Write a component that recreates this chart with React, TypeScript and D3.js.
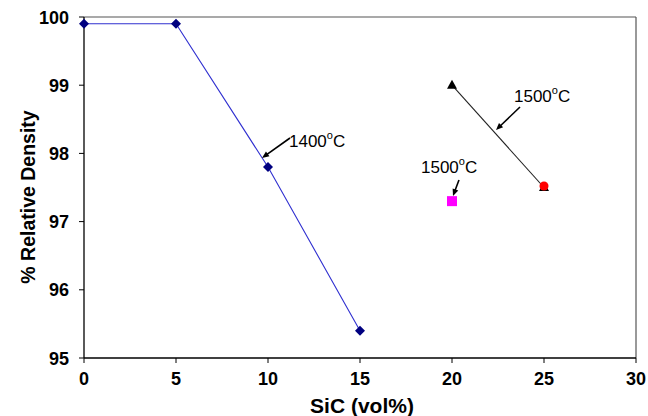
import React from "react";
import * as d3 from "d3";

const blueX = [0, 5, 10, 15];
const blueY = [99.9, 99.9, 97.8, 95.4];
const blackX = [20, 25];
const blackY = [99.0, 97.5];
const redPoint = [25, 97.5];
const magentaPoint = [20, 97.3];
const xTicks = [0, 5, 10, 15, 20, 25, 30];
const yTicks = [95, 96, 97, 98, 99, 100];

const W = 648, H = 416;
const L = 84, R = 636, T = 17, B = 358;

export default function App() {
  const x = d3.scaleLinear().domain([0, 30]).range([L, R]);
  const y = d3.scaleLinear().domain([95, 100]).range([B, T]);
  const line = d3.line<[number, number]>().x(d => x(d[0])).y(d => y(d[1]));
  const blue = blueX.map((v, i) => [v, blueY[i]] as [number, number]);
  const black = blackX.map((v, i) => [v, blackY[i]] as [number, number]);
  const tri = "M0,-5.5L5,3.5L-5,3.5Z";
  const dia = "M0,-5L5,0L0,5L-5,0Z";
  const font = "Liberation Sans, Arial, sans-serif";

  const Arrow = ({ x1, y1, x2, y2 }: any) => {
    const a = Math.atan2(y2 - y1, x2 - x1);
    const hl = 7, hw = 3;
    const p1 = [x2 - hl * Math.cos(a) + hw * Math.sin(a), y2 - hl * Math.sin(a) - hw * Math.cos(a)];
    const p2 = [x2 - hl * Math.cos(a) - hw * Math.sin(a), y2 - hl * Math.sin(a) + hw * Math.cos(a)];
    return (
      <g>
        <line x1={x1} y1={y1} x2={x2 - 4 * Math.cos(a)} y2={y2 - 4 * Math.sin(a)} stroke="#000" strokeWidth={1.6} />
        <polygon points={`${x2},${y2} ${p1[0]},${p1[1]} ${p2[0]},${p2[1]}`} fill="#000" />
      </g>
    );
  };

  const Temp = ({ lx, ly, t }: any) => (
    <text x={lx} y={ly} fontFamily={font} fontSize={17} fill="#000">
      {t}<tspan dy={-8} fontSize={11}>o</tspan><tspan dy={8}>C</tspan>
    </text>
  );

  return (
    <svg width={W} height={H} style={{ position: "absolute", left: 0, top: 0, background: "#fff" }}>
      <rect x={0} y={0} width={W} height={H} fill="#fff" />
      <line x1={L} y1={T} x2={R} y2={T} stroke="#555" strokeWidth={1.2} />
      <line x1={R} y1={T} x2={R} y2={B} stroke="#555" strokeWidth={1.2} />
      <line x1={L} y1={T} x2={L} y2={B} stroke="#000" strokeWidth={1.3} />
      <line x1={L} y1={B} x2={R} y2={B} stroke="#000" strokeWidth={1.3} />
      {yTicks.map(t => (
        <g key={"y" + t}>
          <line x1={L - 5} x2={L} y1={y(t)} y2={y(t)} stroke="#000" />
          <text x={L - 15} y={y(t) + 6.5} textAnchor="end" fontFamily={font} fontWeight="bold" fontSize={18}>{t}</text>
        </g>
      ))}
      {xTicks.map(t => (
        <g key={"x" + t}>
          <line x1={x(t)} x2={x(t)} y1={B} y2={B + 5} stroke="#000" />
          <text x={x(t)} y={B + 27} textAnchor="middle" fontFamily={font} fontWeight="bold" fontSize={18}>{t}</text>
        </g>
      ))}
      <text x={362} y={413} textAnchor="middle" fontFamily={font} fontWeight="bold" fontSize={21}>SiC (vol%)</text>
      <text transform={`translate(35,197) rotate(-90)`} textAnchor="middle" fontFamily={font} fontWeight="bold" fontSize={19.5}>% Relative Density</text>

      <path d={line(blue) as string} fill="none" stroke="#3030d0" strokeWidth={1.1} />
      {blue.map((d, i) => (
        <path key={"b" + i} d={dia} transform={`translate(${x(d[0])},${y(d[1])})`} fill="#000080" />
      ))}
      <path d={line(black) as string} fill="none" stroke="#222" strokeWidth={1.1} />
      {black.map((d, i) => (
        <path key={"k" + i} d={tri} transform={`translate(${x(d[0])},${y(d[1])})`} fill="#000" />
      ))}
      <circle cx={x(redPoint[0])} cy={y(redPoint[1]) - 1.5} r={4.5} fill="#ff0000" />
      <rect x={x(magentaPoint[0]) - 5} y={y(magentaPoint[1]) - 5} width={10} height={10} fill="#ff00ff" />

      <Arrow x1={290} y1={138} x2={262} y2={158} />
      <Temp lx={289} ly={147} t="1400" />
      <Arrow x1={520} y1={107} x2={496} y2={130} />
      <Temp lx={514} ly={102} t="1500" />
      <Arrow x1={459} y1={180} x2={453} y2={196} />
      <Temp lx={421} ly={173} t="1500" />
    </svg>
  );
}
